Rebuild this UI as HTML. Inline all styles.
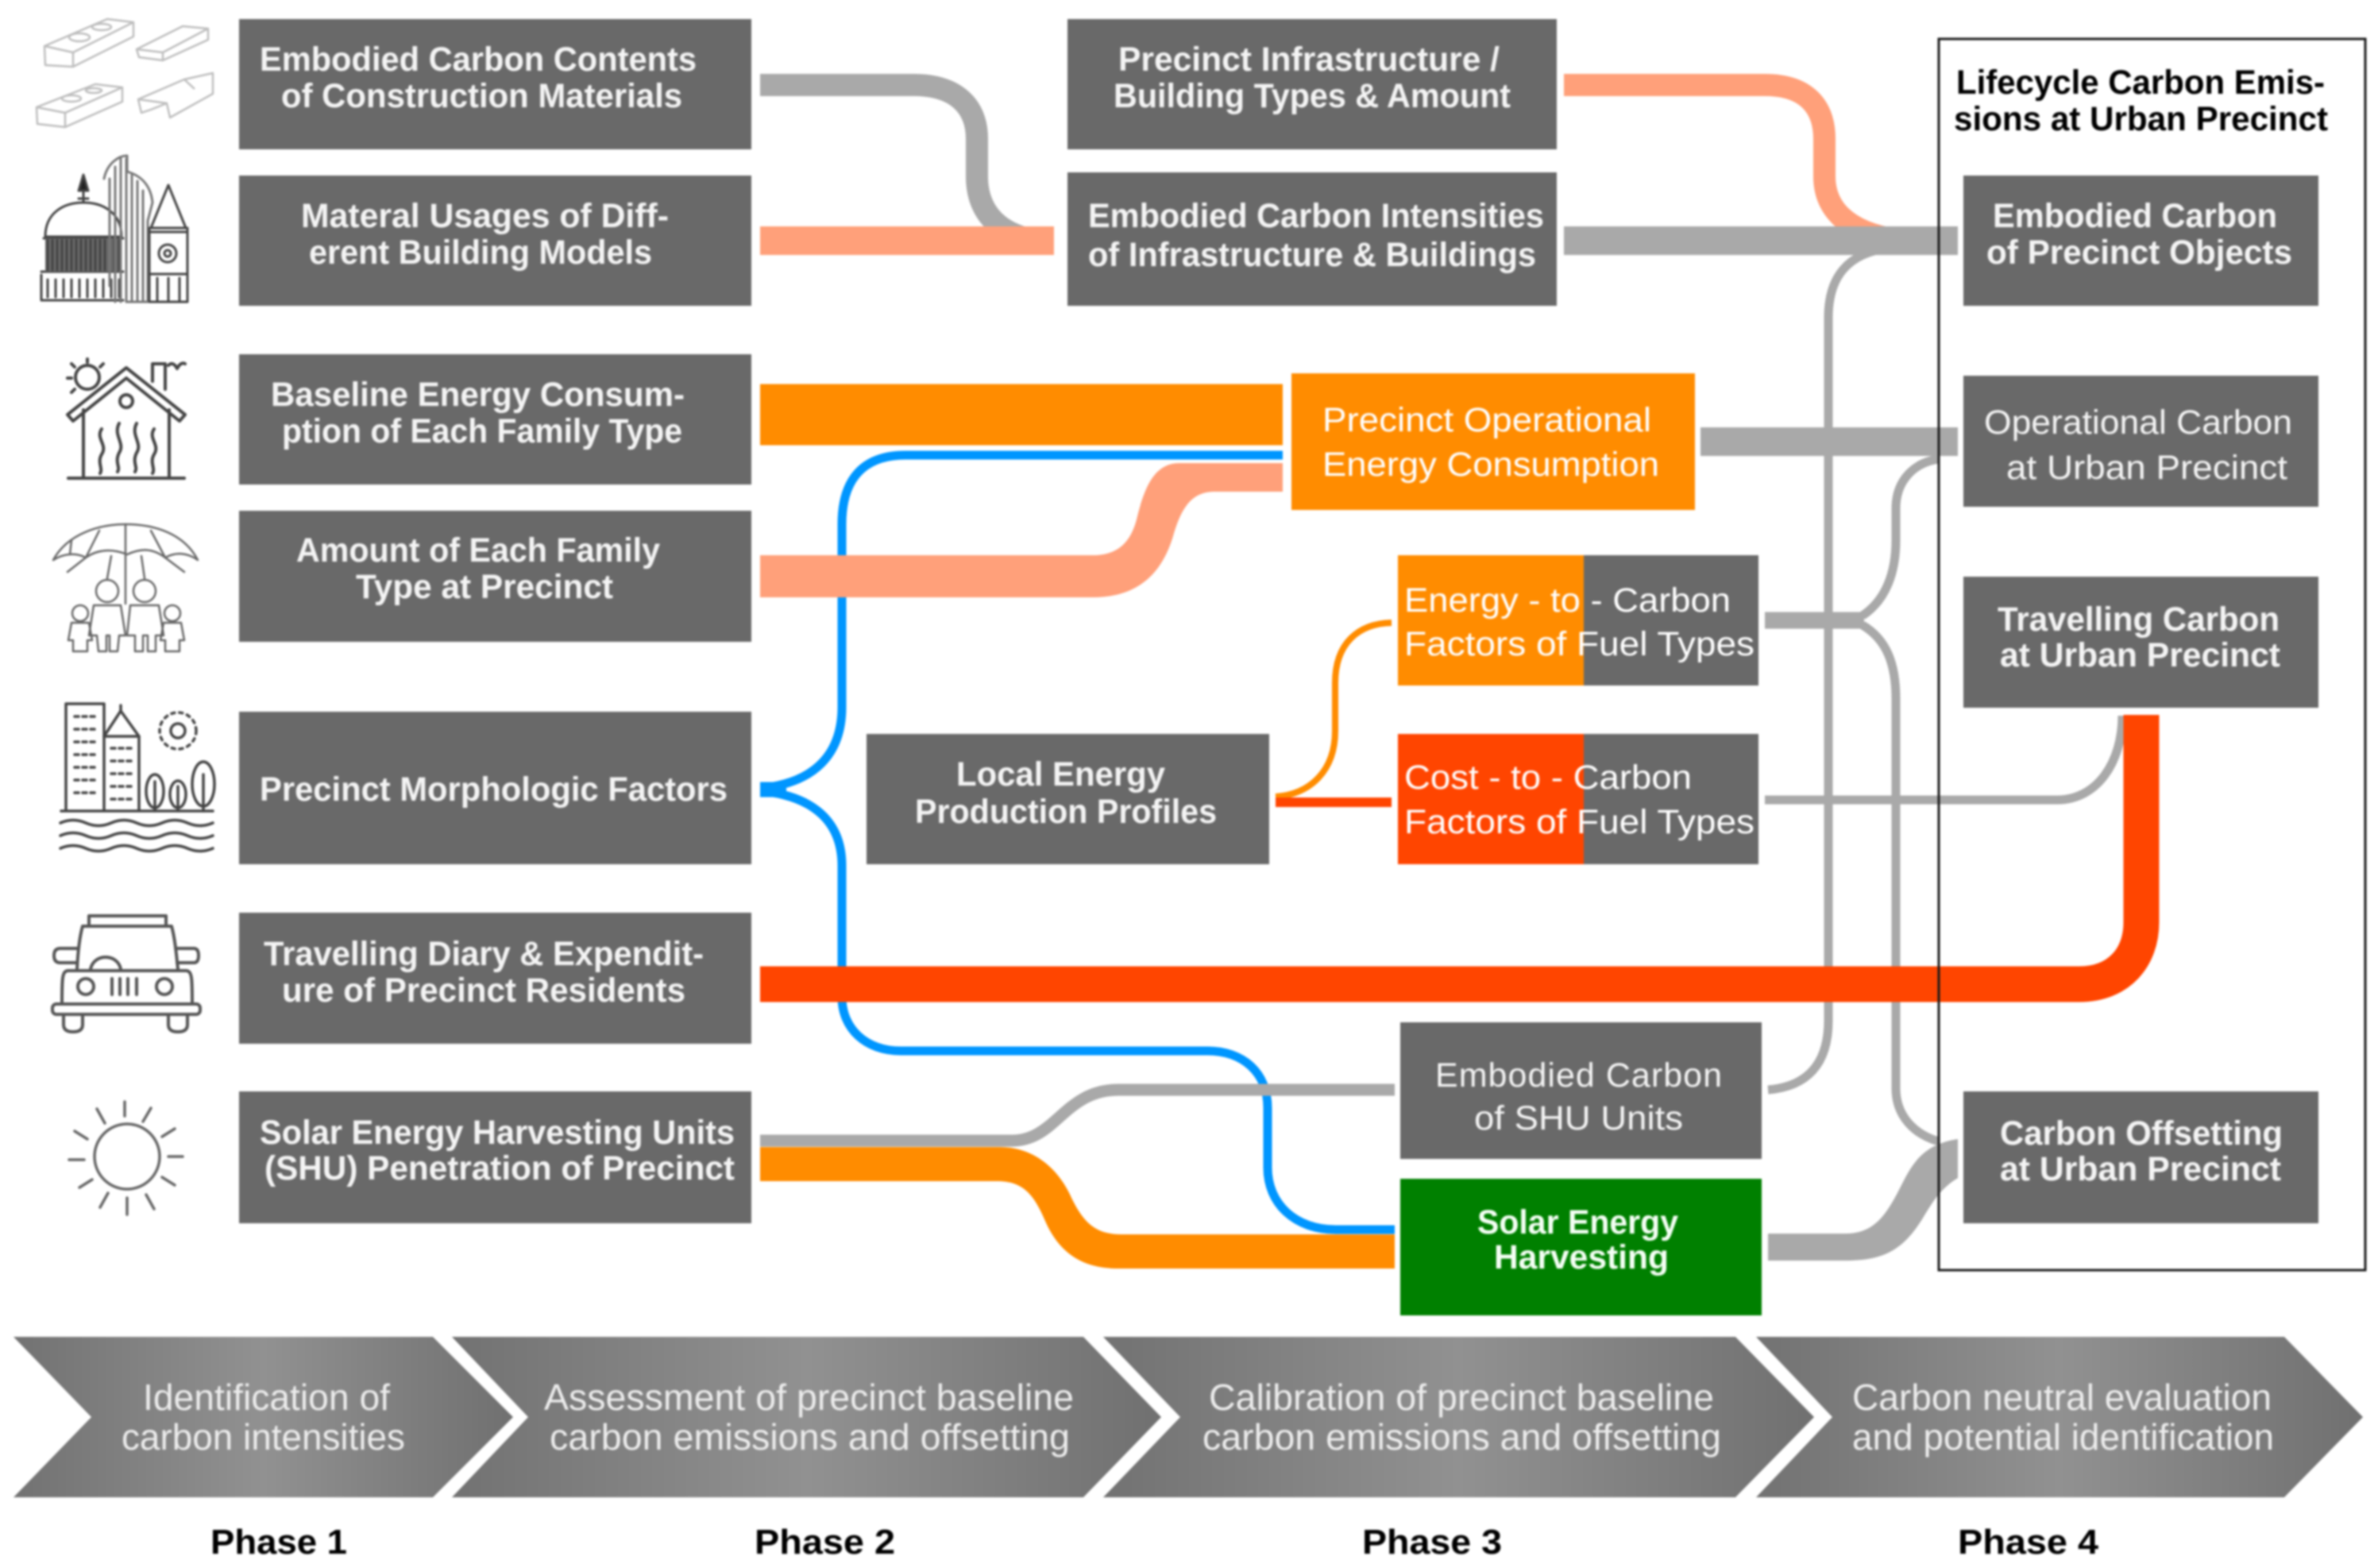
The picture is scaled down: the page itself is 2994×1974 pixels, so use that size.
<!DOCTYPE html>
<html><head><meta charset="utf-8"><title>Lifecycle carbon diagram</title>
<style>
html,body{margin:0;padding:0;background:#fff;width:2994px;height:1974px;overflow:hidden}
svg{display:block;filter:blur(1.3px)}
text{font-family:"Liberation Sans",Arial,sans-serif}
.b{font-weight:700;font-size:43px;fill:#f4f4f4}
.r{font-size:43px;fill:#f4f4f4}
.c{font-size:46px;fill:#ececec}
.k{font-weight:700;font-size:43px;fill:#000}
.p{font-weight:700;font-size:44px;fill:#000}
.w{font-size:43px;fill:#fff}
.ic{fill:none;stroke:#444;stroke-width:3.5;stroke-linecap:round;stroke-linejoin:round}
.il{fill:none;stroke:#bdbdbd;stroke-width:2.5;stroke-linejoin:round}
</style></head><body>
<svg xmlns="http://www.w3.org/2000/svg" width="2994" height="1974" viewBox="0 0 2994 1974">
<defs>
<linearGradient id="g" x1="0" x2="1" y1="0" y2="0">
<stop offset="0" stop-color="#727272"/><stop offset=".5" stop-color="#919191"/><stop offset="1" stop-color="#707070"/>
</linearGradient>
</defs>
<rect width="2994" height="1974" fill="#fff"/>

<!-- blue -->
<g fill="none" stroke="#0096ff" stroke-width="11">
<path d="M960 992 C1025 985 1060 950 1060 890 V660 C1060 605 1085 573 1140 573 H1615"/>
<path d="M960 996 C1025 1003 1060 1035 1060 1090 V1255 C1060 1295 1090 1323 1134 1323 H1520 C1565 1323 1596 1350 1596 1395 V1470 C1596 1515 1630 1548 1682 1548 H1756"/>
<path d="M957 994 H990" stroke-width="19"/>
</g>

<!-- thin grey -->
<g fill="none" stroke="#a9a9a9" stroke-width="11">
<path d="M2380 312 C2325 318 2302 350 2302 400 V1285 C2302 1340 2275 1368 2226 1372"/>
<path d="M2345 775 C2375 755 2387 720 2387 680 V640 C2387 605 2410 582 2441 578"/>
<path d="M2345 787 C2375 805 2387 835 2387 880 V1370 C2387 1405 2410 1428 2441 1437"/>
<path d="M2222 1007 H2590 C2640 1007 2672 960 2672 901"/>
</g>

<!-- thick connectors -->
<g fill="none">
<path d="M957 107 H1150 C1205 107 1230 135 1230 175 V222 C1230 260 1250 292 1300 302" stroke="#a9a9a9" stroke-width="28"/>
<path d="M1969 107 H2222 C2275 107 2297 135 2297 175 V222 C2297 260 2322 292 2388 302" stroke="#ffa07a" stroke-width="28"/>
<path d="M957 303 H1327" stroke="#ffa07a" stroke-width="36"/>
<path d="M1969 303 H2465" stroke="#a9a9a9" stroke-width="36"/>
<path d="M2141 556 H2465" stroke="#a9a9a9" stroke-width="36"/>
<path d="M2222 781 H2347" stroke="#a9a9a9" stroke-width="21"/>
<path d="M957 522 H1615" stroke="#ff8c00" stroke-width="77"/>
</g>
<path d="M957 699 H1376 C1410 699 1425 680 1432 650 C1442 610 1455 583 1485 583 H1615 V619 H1529 C1500 619 1487 640 1477 675 C1462 725 1430 752 1376 752 H957 Z" fill="#ffa07a"/>
<path d="M957 1239 H2618 C2668 1239 2696 1205 2696 1161 V900" fill="none" stroke="#ff4500" stroke-width="45"/>
<path d="M1606 1003 C1650 1000 1681 970 1681 920 V860 C1681 810 1710 785 1752 784" fill="none" stroke="#ff8c00" stroke-width="8"/>
<path d="M1606 1010 H1752" fill="none" stroke="#ff4500" stroke-width="12"/>
<path d="M957 1436 H1274 C1330 1436 1340 1372 1408 1372 H1756" fill="none" stroke="#a9a9a9" stroke-width="15"/>
<path d="M957 1444 H1258 C1305 1444 1335 1475 1350 1510 C1365 1540 1380 1554 1412 1554 H1756 V1597 H1408 C1360 1597 1332 1575 1315 1535 C1300 1500 1285 1487 1255 1487 H957 Z" fill="#ff8c00"/>
<path d="M2226 1553 H2323 C2360 1553 2375 1530 2395 1490 C2410 1460 2425 1440 2465 1434 V1483 C2445 1495 2435 1510 2420 1535 C2395 1575 2370 1587 2323 1587 H2226 Z" fill="#a9a9a9"/>

<!-- boxes -->
<g fill="#696969">
<rect x="301" y="24" width="645" height="164"/>
<rect x="301" y="221" width="645" height="164"/>
<rect x="301" y="446" width="645" height="164"/>
<rect x="301" y="643" width="645" height="165"/>
<rect x="301" y="896" width="645" height="192"/>
<rect x="301" y="1149" width="645" height="165"/>
<rect x="301" y="1374" width="645" height="166"/>
<rect x="1344" y="24" width="616" height="164"/>
<rect x="1344" y="217" width="616" height="168"/>
<rect x="1091" y="924" width="507" height="164"/>
<rect x="1763" y="1287" width="455" height="172"/>
<rect x="1760" y="699" width="454" height="164"/>
<rect x="1760" y="924" width="454" height="164"/>
<rect x="2472" y="221" width="447" height="164"/>
<rect x="2472" y="473" width="447" height="165"/>
<rect x="2472" y="726" width="447" height="165"/>
<rect x="2472" y="1374" width="447" height="166"/>
</g>
<rect x="1626" y="470" width="508" height="172" fill="#ff8c00"/>
<rect x="1760" y="699" width="234" height="164" fill="#ff8c00"/>
<rect x="1760" y="924" width="234" height="164" fill="#ff4500"/>
<rect x="1763" y="1484" width="455" height="172" fill="#008000"/>

<rect x="2441" y="49" width="537" height="1550" fill="none" stroke="#1a1a1a" stroke-width="3"/>

<!-- box text -->
<g class="b">
<text class="b" x="327" y="89" textLength="550" lengthAdjust="spacingAndGlyphs">Embodied Carbon Contents</text>
<text class="b" x="354" y="135" textLength="505" lengthAdjust="spacingAndGlyphs">of Construction Materials</text>
<text class="b" x="379" y="286" textLength="463" lengthAdjust="spacingAndGlyphs">Materal Usages of Diff-</text>
<text class="b" x="389" y="332" textLength="432" lengthAdjust="spacingAndGlyphs">erent Building Models</text>
<text class="b" x="341" y="511" textLength="521" lengthAdjust="spacingAndGlyphs">Baseline Energy Consum-</text>
<text class="b" x="355" y="557" textLength="504" lengthAdjust="spacingAndGlyphs">ption of Each Family Type</text>
<text class="b" x="373" y="707" textLength="458" lengthAdjust="spacingAndGlyphs">Amount of Each Family</text>
<text class="b" x="448" y="753" textLength="324" lengthAdjust="spacingAndGlyphs">Type at Precinct</text>
<text class="b" x="327" y="1008" textLength="589" lengthAdjust="spacingAndGlyphs">Precinct Morphologic Factors</text>
<text class="b" x="332" y="1215" textLength="554" lengthAdjust="spacingAndGlyphs">Travelling Diary &amp; Expendit-</text>
<text class="b" x="355" y="1261" textLength="508" lengthAdjust="spacingAndGlyphs">ure of Precinct Residents</text>
<text class="b" x="327" y="1440" textLength="598" lengthAdjust="spacingAndGlyphs">Solar Energy Harvesting Units</text>
<text class="b" x="333" y="1485" textLength="592" lengthAdjust="spacingAndGlyphs">(SHU) Penetration of Precinct</text>
<text class="b" x="1408" y="89" textLength="480" lengthAdjust="spacingAndGlyphs">Precinct Infrastructure /</text>
<text class="b" x="1402" y="135" textLength="500" lengthAdjust="spacingAndGlyphs">Building Types &amp; Amount</text>
<text class="b" x="1370" y="286" textLength="574" lengthAdjust="spacingAndGlyphs">Embodied Carbon Intensities</text>
<text class="b" x="1370" y="335" textLength="564" lengthAdjust="spacingAndGlyphs">of Infrastructure &amp; Buildings</text>
<text class="b" x="1204" y="989" textLength="263" lengthAdjust="spacingAndGlyphs">Local Energy</text>
<text class="b" x="1152" y="1036" textLength="380" lengthAdjust="spacingAndGlyphs">Production Profiles</text>
<text class="b" x="2509" y="286" textLength="358" lengthAdjust="spacingAndGlyphs">Embodied Carbon</text>
<text class="b" x="2501" y="332" textLength="385" lengthAdjust="spacingAndGlyphs">of Precinct Objects</text>
<text class="b" x="2515" y="794" textLength="355" lengthAdjust="spacingAndGlyphs">Travelling Carbon</text>
<text class="b" x="2518" y="839" textLength="353" lengthAdjust="spacingAndGlyphs">at Urban Precinct</text>
<text class="b" x="2518" y="1441" textLength="356" lengthAdjust="spacingAndGlyphs">Carbon Offsetting</text>
<text class="b" x="2518" y="1486" textLength="354" lengthAdjust="spacingAndGlyphs">at Urban Precinct</text>
<text class="b" x="1860" y="1553" textLength="253" lengthAdjust="spacingAndGlyphs" style="fill:#f4fff4">Solar Energy</text>
<text class="b" x="1881" y="1597" textLength="220" lengthAdjust="spacingAndGlyphs" style="fill:#f4fff4">Harvesting</text>
</g>
<text class="r" x="1807" y="1368" textLength="361" lengthAdjust="spacing">Embodied Carbon</text>
<text class="r" x="1856" y="1422" textLength="263" lengthAdjust="spacingAndGlyphs">of SHU Units</text>
<text class="r" x="2498" y="546" textLength="388" lengthAdjust="spacingAndGlyphs">Operational Carbon</text>
<text class="r" x="2526" y="603" textLength="354" lengthAdjust="spacingAndGlyphs">at Urban Precinct</text>
<text class="w" x="1665" y="543" textLength="414" lengthAdjust="spacingAndGlyphs">Precinct Operational</text>
<text class="w" x="1665" y="599" textLength="424" lengthAdjust="spacingAndGlyphs">Energy Consumption</text>
<text class="w" x="1768" y="770" textLength="411" lengthAdjust="spacingAndGlyphs">Energy - to - Carbon</text>
<text class="w" x="1768" y="825" textLength="441" lengthAdjust="spacingAndGlyphs">Factors of Fuel Types</text>
<text class="w" x="1768" y="993" textLength="362" lengthAdjust="spacingAndGlyphs">Cost - to - Carbon</text>
<text class="w" x="1768" y="1049" textLength="441" lengthAdjust="spacingAndGlyphs">Factors of Fuel Types</text>
<text class="k" x="2463" y="118" textLength="464" lengthAdjust="spacingAndGlyphs">Lifecycle Carbon Emis-</text>
<text class="k" x="2460" y="164" textLength="471" lengthAdjust="spacingAndGlyphs">sions at Urban Precinct</text>

<!-- chevrons -->
<g fill="url(#g)">
<polygon points="17,1683 545,1683 646,1784 545,1885 17,1885 115,1784"/>
<polygon points="569,1683 1364,1683 1462,1784 1364,1885 569,1885 665,1784"/>
<polygon points="1389,1683 2185,1683 2284,1784 2185,1885 1389,1885 1486,1784"/>
<polygon points="2211,1683 2876,1683 2975,1784 2876,1885 2211,1885 2307,1784"/>
</g>
<text class="c" x="180" y="1775" textLength="311" lengthAdjust="spacingAndGlyphs">Identification of</text>
<text class="c" x="153" y="1825" textLength="357" lengthAdjust="spacingAndGlyphs">carbon intensities</text>
<text class="c" x="685" y="1775" textLength="667" lengthAdjust="spacingAndGlyphs">Assessment of precinct baseline</text>
<text class="c" x="692" y="1825" textLength="655" lengthAdjust="spacingAndGlyphs">carbon emissions and offsetting</text>
<text class="c" x="1522" y="1775" textLength="636" lengthAdjust="spacingAndGlyphs">Calibration of precinct baseline</text>
<text class="c" x="1514" y="1825" textLength="653" lengthAdjust="spacingAndGlyphs">carbon emissions and offsetting</text>
<text class="c" x="2332" y="1775" textLength="528" lengthAdjust="spacingAndGlyphs">Carbon neutral evaluation</text>
<text class="c" x="2332" y="1825" textLength="531" lengthAdjust="spacingAndGlyphs">and potential identification</text>

<text class="p" x="265" y="1956" textLength="172" lengthAdjust="spacingAndGlyphs">Phase 1</text>
<text class="p" x="950" y="1956" textLength="177" lengthAdjust="spacingAndGlyphs">Phase 2</text>
<text class="p" x="1715" y="1956" textLength="176" lengthAdjust="spacingAndGlyphs">Phase 3</text>
<text class="p" x="2465" y="1956" textLength="177" lengthAdjust="spacingAndGlyphs">Phase 4</text>

<!-- icons: bricks -->
<g class="il">
<path d="M56 58 L135 24 L168 28 L168 46 L92 84 L57 82 Z M56 58 L92 66 L168 28 M92 66 V84"/>
<ellipse cx="100" cy="47" rx="13" ry="5"/><ellipse cx="128" cy="34" rx="12" ry="4"/>
<path d="M172 62 L230 33 L262 36 L262 50 L205 76 L175 72 Z M172 62 L205 66 L262 36 M205 66 V76"/>
<path d="M46 135 L120 106 L154 110 L154 128 L82 160 L47 156 Z M46 135 L82 142 L154 110 M82 142 V160"/>
<ellipse cx="90" cy="124" rx="12" ry="4"/><ellipse cx="118" cy="114" rx="10" ry="3"/>
<path d="M174 125 L232 100 L268 92 L268 118 L214 148 L210 130 L190 138 L178 142 Z M174 125 L210 130 M232 100 L245 112"/>
</g>
<!-- dome / towers -->
<g class="ic" style="stroke-width:3">
<path d="M57 298 C57 268 80 255 105 255 C130 255 153 268 153 298 Z"/>
<path d="M105 255 V232 M99 250 H111"/><path d="M105 220 L111 240 H99 Z" fill="#222"/>
<path d="M55 300 H155 M52 342 H155 M52 346 V378 H155"/>
<rect x="57" y="300" width="96" height="42" fill="#6a6a6a" stroke="none"/>
<path d="M60 302 V340 M66 302 V340 M72 302 V340 M78 302 V340 M84 302 V340 M90 302 V340 M96 302 V340 M102 302 V340 M108 302 V340 M114 302 V340 M120 302 V340 M126 302 V340 M132 302 V340 M138 302 V340 M144 302 V340 M150 302 V340"/>
<path d="M60 352 V374 M70 352 V374 M80 352 V374 M90 352 V374 M100 352 V374 M110 352 V374 M120 352 V374 M130 352 V374 M140 352 V374 M150 352 V374"/>
<g style="stroke:#777"><path d="M131 225 C135 205 150 196 160 196 V216 C180 222 190 235 192 255 L186 278 V380 H160"/>
<path d="M138 225 V360 M145 210 V380 M152 200 V380 M159 200 V380 M166 220 V380 M173 228 V380 M180 240 V380"/></g>
<path d="M212 233 L190 287 H234 Z M188 287 V380 H236 V287 M188 345 H236 M188 292 H236"/>
<circle cx="211" cy="319" r="11"/><circle cx="211" cy="319" r="4"/>
<path d="M198 350 V378 M212 350 V378 M226 350 V378"/>
</g>
<!-- house -->
<g class="ic" style="stroke-width:4">
<path d="M85 522 L159 463 L233 522 L226 530 L159 476 L92 530 Z"/>
<path d="M105 516 V600 M213 516 V600 M86 602 H232"/>
<circle cx="159" cy="505" r="8"/>
<path d="M192 480 V458 H208 V490"/>
<circle cx="110" cy="475" r="15"/>
<path d="M110 452 V456 M90 458 L94 462 M85 476 H90 M90 494 L94 490 M130 458 L126 462"/>
<path d="M212 460 C216 456 220 458 223 464 C226 458 230 456 233 458"/>
<path d="M128 540 C120 552 136 560 128 572 C122 582 130 590 126 596 M150 533 C142 548 158 558 150 570 C144 582 152 588 148 594 M172 533 C164 548 180 558 172 570 C166 582 174 588 170 594 M194 540 C186 552 202 560 194 572 C188 582 196 590 192 596"/>
</g>
<!-- umbrella family -->
<g class="ic" style="stroke-width:2.5;stroke:#666">
<path d="M67 705 C85 672 125 660 158 660 C195 660 232 672 249 705 C235 695 220 695 208 702 C192 690 178 690 160 698 C140 690 122 692 108 702 C95 695 80 697 67 705 Z"/>
<path d="M158 660 V760 M125 668 L108 702 M190 668 L208 702 M90 680 L88 698 M108 702 L85 720 M208 702 L232 720 M140 700 L135 728 M178 700 L182 728"/>
<circle cx="135" cy="744" r="14"/><circle cx="182" cy="744" r="14"/>
<circle cx="101" cy="772" r="10"/><circle cx="217" cy="772" r="10"/>
<path d="M118 762 H152 L158 800 H150 L148 820 H138 V800 H134 V820 H124 L122 800 H112 Z"/>
<path d="M164 762 H200 L206 800 H196 V820 H186 V800 H180 V820 H170 V800 H160 Z"/>
<path d="M90 784 H112 L116 806 H110 V820 H92 V806 H86 Z"/>
<path d="M206 784 H228 L232 806 H226 V820 H208 V806 H202 Z"/>
</g>
<!-- city -->
<g class="ic" style="stroke-width:3.5">
<path d="M83 1021 V886 H131 V1021 M131 1021 V927 H175 V1021 M77 1021 H268"/>
<path d="M131 927 L152 895 L175 927 M152 895 V888"/>
<g style="stroke-dasharray:5 5">
<path d="M94 902 H124 M94 918 H124 M94 934 H124 M94 950 H124 M94 966 H124 M94 982 H124 M94 998 H124"/>
<path d="M140 942 H168 M140 958 H168 M140 974 H168 M140 990 H168 M140 1006 H168"/>
</g>
<circle cx="224" cy="920" r="9"/><circle cx="224" cy="920" r="23" style="stroke-dasharray:4 6"/>
<ellipse cx="195" cy="996" rx="11" ry="21"/><ellipse cx="224" cy="1000" rx="10" ry="17"/><ellipse cx="256" cy="987" rx="14" ry="28"/>
<path d="M195 984 V1021 M224 990 V1021 M256 975 V1021"/>
<path d="M76 1036 q16 -7 32 0 t32 0 t32 0 t32 0 t32 0 t32 0"/>
<path d="M76 1052 q16 -7 32 0 t32 0 t32 0 t32 0 t32 0 t32 0"/>
<path d="M76 1068 q16 -7 32 0 t32 0 t32 0 t32 0 t32 0 t32 0"/>
</g>
<!-- car -->
<g class="ic" style="stroke-width:4;stroke:#555">
<path d="M112 1166 V1153 H209 V1166 M104 1166 H216 C220 1180 222 1200 224 1220 M104 1166 C100 1180 98 1200 97 1220"/>
<path d="M97 1212 H76 Q68 1212 68 1203 Q68 1194 76 1194 H99 M223 1212 H244 Q250 1212 250 1203 Q250 1194 244 1194 H221"/>
<path d="M114 1220 C118 1200 148 1200 152 1220"/>
<path d="M86 1222 H234 C242 1222 242 1232 242 1264 H78 C78 1232 78 1222 86 1222 Z"/>
<rect x="66" y="1264" width="186" height="13" rx="5"/>
<circle cx="108" cy="1242" r="10"/><circle cx="207" cy="1242" r="10"/>
<path d="M141 1232 V1252 M151 1232 V1252 M161 1232 V1252 M172 1232 V1252"/>
<path d="M80 1277 V1290 Q80 1299 92 1299 Q104 1299 104 1290 V1277 M212 1277 V1290 Q212 1299 224 1299 Q236 1299 236 1290 V1277"/>
</g>
<!-- sun -->
<g class="ic" style="stroke:#666;stroke-width:3.5">
<ellipse cx="160" cy="1456" rx="41" ry="41"/>
<path d="M157 1387 V1405 M190 1395 L180 1412 M220 1421 L204 1431 M230 1456 H212 M220 1492 L204 1482 M194 1522 L184 1504 M160 1529 V1508 M126 1520 L136 1502 M100 1495 L116 1485 M87 1460 H106 M94 1424 L110 1434 M122 1396 L132 1414"/>
</g>
</svg>
</body></html>
